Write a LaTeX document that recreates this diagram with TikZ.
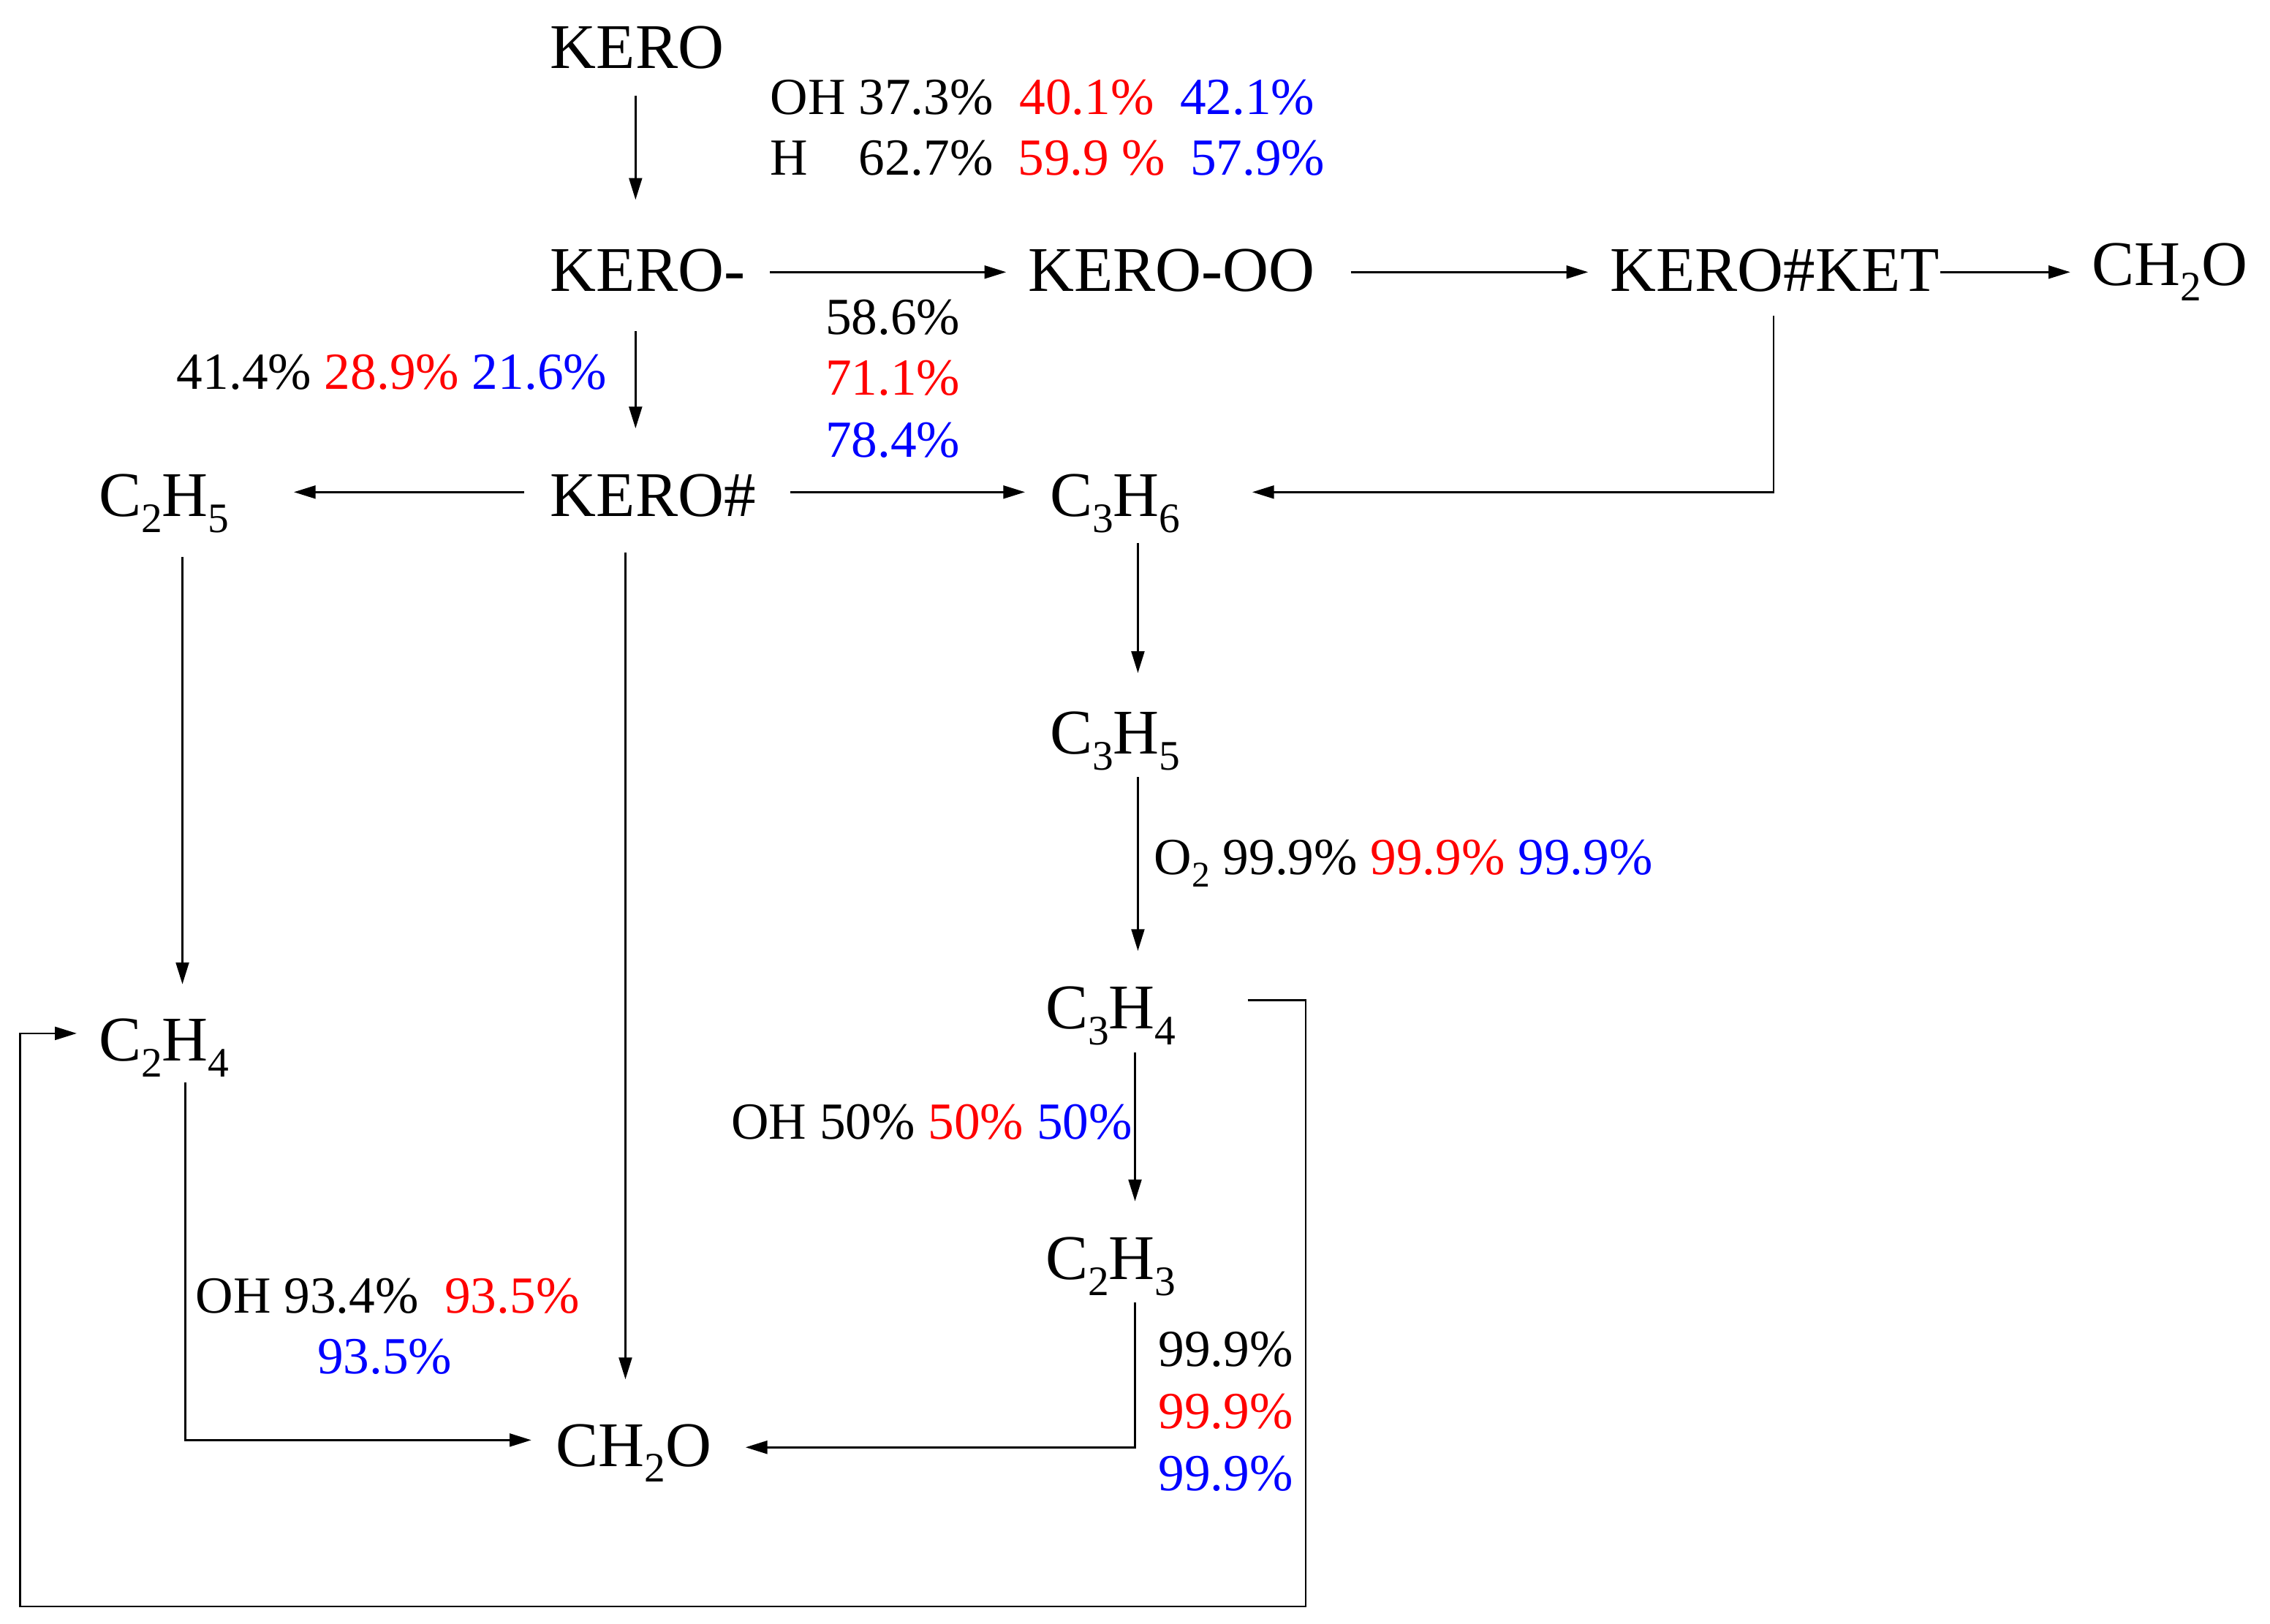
\documentclass[tikz,border=0pt]{standalone}
\usepackage{fontspec}
\setmainfont{Liberation Serif}
\usetikzlibrary{arrows.meta}
\newcommand\chemsub[1]{\raisebox{-11pt}{\fontsize{29}{29}\selectfont #1}}
\newcommand\labsub[1]{\raisebox{-9pt}{\fontsize{25}{25}\selectfont #1}}
\begin{document}
\begin{tikzpicture}[x=1pt,y=-1pt,
  spec/.style={anchor=base west, inner sep=0pt, font={\fontsize{44}{50}\selectfont}},
  lab/.style={anchor=base west, inner sep=0pt, font={\fontsize{36}{42}\selectfont}},
  arr/.style={-{Triangle[length=15pt,width=9pt]}, line width=1.3pt},
  ln/.style={line width=1.3pt}]
\useasboundingbox (0,0) rectangle (1568,1122);
% species
\node[spec] (kero)   at (380,47)   {KERO};
\node[spec] (keroM)  at (380,201)  {KERO-};
\node[spec] (keroOO) at (710,201)  {KERO-OO};
\node[spec] (ket)    at (1112,201) {KERO\#KET};
\node[spec] (ch2oA)  at (1445,197) {CH\chemsub{2}O};
\node[spec] (c2h5)   at (68,357)   {C\chemsub{2}H\chemsub{5}};
\node[spec] (keroH)  at (380,357)  {KERO\#};
\node[spec] (c3h6)   at (725,357)  {C\chemsub{3}H\chemsub{6}};
\node[spec] (c3h5)   at (725,521)  {C\chemsub{3}H\chemsub{5}};
\node[spec] (c3h4)   at (722,711)  {C\chemsub{3}H\chemsub{4}};
\node[spec] (c2h3)   at (722,884)  {C\chemsub{2}H\chemsub{3}};
\node[spec] (c2h4)   at (68,733)   {C\chemsub{2}H\chemsub{4}};
\node[spec] (ch2oB)  at (384,1013) {CH\chemsub{2}O};
% labels
\node[lab] (l1a) at (532,79) {OH 37.3\%~~\textcolor{red}{40.1\%}~~\textcolor{blue}{42.1\%}};
\node[lab] (l1b) at (532,121) {H\hspace{35pt}62.7\%\hspace{17pt}\textcolor{red}{59.9 \%}\hspace{17pt}\textcolor{blue}{57.9\%}};
\node[lab] (l2a) at (570,231) {58.6\%};
\node[lab,text=red] (l2b) at (570,273) {71.1\%};
\node[lab,text=blue] (l2c) at (570,316) {78.4\%};
\node[lab] (l3) at (122,269) {41.4\% \textcolor{red}{28.9\%} \textcolor{blue}{21.6\%}};
\node[lab] (l4) at (797,604) {O\labsub{2} 99.9\% \textcolor{red}{99.9\%} \textcolor{blue}{99.9\%}};
\node[lab] (l5) at (505,787) {OH 50\% \textcolor{red}{50\%} \textcolor{blue}{50\%}};
\node[lab] (l6a) at (800,944) {99.9\%};
\node[lab,text=red] (l6b) at (800,987) {99.9\%};
\node[lab,text=blue] (l6c) at (800,1030) {99.9\%};
\node[lab] (l7a) at (135,907) {OH 93.4\%~~\textcolor{red}{93.5\%}};
\node[lab,text=blue] (l7b) at (219,949) {93.5\%};
% loop corners
\coordinate (loopR) at (902,1110);
\coordinate (loopL) at (14,1110);
% connectors
\draw[arr] ([shift={(59,19)}]kero.base west) -- ([shift={(59,-63)}]keroM.base west);
\draw[arr] ([shift={(152,-13)}]keroM.base west) -- ([shift={(-15,-13)}]keroOO.base west);
\draw[arr] ([shift={(223,-13)}]keroOO.base west) -- ([shift={(-15,-13)}]ket.base west);
\draw[arr] ([shift={(228,-13)}]ket.base west) -- ([shift={(-15,-9)}]ch2oA.base west);
\draw[arr] ([shift={(59,28)}]keroM.base west) -- ([shift={(59,-61)}]keroH.base west);
\draw[arr] ([shift={(-18,-17)}]keroH.base west) -- ([shift={(135,-17)}]c2h5.base west);
\draw[arr] ([shift={(166,-17)}]keroH.base west) -- ([shift={(-17,-17)}]c3h6.base west);
\draw[arr] ([shift={(113,17)}]ket.base west) |- ([shift={(140,-17)}]c3h6.base west);
\draw[arr] ([shift={(58,28)}]c2h5.base west) -- ([shift={(58,-53)}]c2h4.base west);
\draw[arr] ([shift={(52,25)}]keroH.base west) -- ([shift={(48,-60)}]ch2oB.base west);
\draw[arr] ([shift={(61,18)}]c3h6.base west) -- ([shift={(61,-56)}]c3h5.base west);
\draw[arr] ([shift={(61,16)}]c3h5.base west) -- ([shift={(64,-54)}]c3h4.base west);
\draw[arr] ([shift={(62,16)}]c3h4.base west) -- ([shift={(62,-54)}]c2h3.base west);
\draw[arr] ([shift={(62,16)}]c2h3.base west) |- ([shift={(131,-13)}]ch2oB.base west);
\draw[arr] ([shift={(60,15)}]c2h4.base west) |- ([shift={(-17,-18)}]ch2oB.base west);
\draw[arr] ([shift={(140,-20)}]c3h4.base west) -| (loopR) -- (loopL) |- ([shift={(-15,-19)}]c2h4.base west);
\end{tikzpicture}
\end{document}
